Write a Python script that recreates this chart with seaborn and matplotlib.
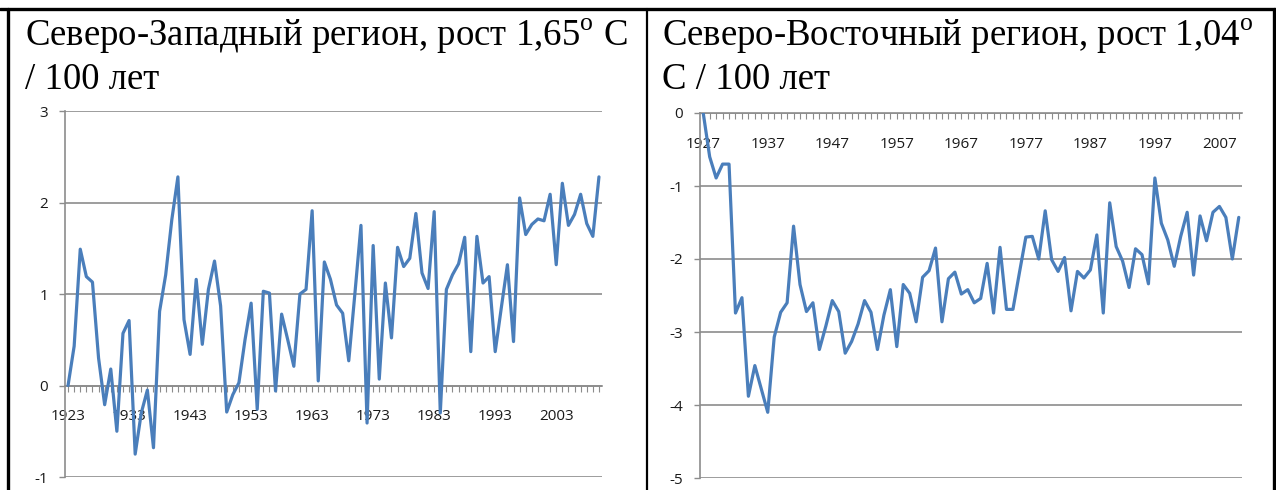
import pandas as pd
import seaborn as sns
import matplotlib.pyplot as plt
from matplotlib.lines import Line2D
from matplotlib.ticker import FixedLocator

# ========== DATA ==========
# Северо-Западный регион, 1923-2010
nw_years = list(range(1923, 2011))
nw_values = [0.0, 0.43, 1.49, 1.19, 1.13, 0.3, -0.21, 0.18, -0.5, 0.57,
             0.71, -0.75, -0.3, -0.05, -0.68, 0.81, 1.21, 1.81, 2.28, 0.72,
             0.34, 1.16, 0.45, 1.05, 1.36, 0.87, -0.29, -0.1, 0.03, 0.5,
             0.9, -0.26, 1.03, 1.01, -0.06, 0.78, 0.5, 0.21, 1.0, 1.05,
             1.91, 0.05, 1.35, 1.16, 0.88, 0.79, 0.27, 1.0, 1.75, -0.41,
             1.53, 0.07, 1.12, 0.52, 1.51, 1.3, 1.39, 1.88, 1.23, 1.06,
             1.9, -0.3, 1.05, 1.21, 1.33, 1.62, 0.37, 1.63, 1.12, 1.19,
             0.37, 0.85, 1.32, 0.48, 2.05, 1.65, 1.76, 1.82, 1.8, 2.09,
             1.32, 2.21, 1.75, 1.87, 2.09, 1.77, 1.63, 2.28]
nw_label_years = [1923, 1933, 1943, 1953, 1963, 1973, 1983, 1993, 2003]
nw_title = ["Северо-Западный регион, рост 1,65$^{\\mathrm{o}}$ С", "/ 100 лет"]

# Северо-Восточный регион, 1927-2010
ne_years = list(range(1927, 2011))
ne_values = [0.0, -0.6, -0.89, -0.7, -0.7, -2.74, -2.53, -3.88, -3.46, -3.78,
             -4.1, -3.07, -2.73, -2.6, -1.55, -2.35, -2.72, -2.6, -3.24, -2.92,
             -2.57, -2.72, -3.29, -3.13, -2.89, -2.57, -2.73, -3.24, -2.77, -2.42,
             -3.2, -2.35, -2.47, -2.86, -2.25, -2.16, -1.85, -2.86, -2.27, -2.18,
             -2.48, -2.42, -2.6, -2.54, -2.06, -2.74, -1.84, -2.69, -2.69, -2.19,
             -1.7, -1.69, -2.0, -1.34, -2.01, -2.17, -1.98, -2.71, -2.17, -2.26,
             -2.15, -1.67, -2.74, -1.23, -1.83, -2.03, -2.39, -1.86, -1.94, -2.34,
             -0.89, -1.51, -1.74, -2.1, -1.69, -1.36, -2.22, -1.41, -1.75, -1.36,
             -1.28, -1.43, -2.0, -1.43]
ne_label_years = [1927, 1937, 1947, 1957, 1967, 1977, 1987, 1997, 2007]
ne_title = ["Северо-Восточный регион, рост 1,04$^{\\mathrm{o}}$", "С / 100 лет"]

LINE = "#4a7ebb"
GRID = "#8c8c8c"

sns.set_style("white")
plt.rcParams['font.family'] = ['Open Sans', 'DejaVu Sans']
plt.rcParams['mathtext.fontset'] = 'custom'
plt.rcParams['mathtext.rm'] = 'Liberation Serif'
plt.rcParams['axes.unicode_minus'] = False


def draw_panel(ax, years, values, ymin, ymax, label_years):
    df = pd.DataFrame({"Year": years, "Value": values})
    sns.lineplot(data=df, x="Year", y="Value", ax=ax, color=LINE, linewidth=2.3, zorder=3)
    ax.set_xlim(years[0] - 0.5, years[-1] + 0.5)
    ax.set_ylim(ymin, ymax)
    ax.set_yticks(range(ymin, ymax + 1))
    ax.yaxis.grid(True, color=GRID, linewidth=1.2)
    ax.xaxis.grid(False)
    ax.set_axisbelow(True)
    ax.spines['top'].set_visible(False)
    ax.spines['right'].set_visible(False)
    ax.spines['left'].set_color(GRID)
    ax.spines['left'].set_linewidth(1.2)
    ax.spines['bottom'].set_position(('data', 0))
    ax.spines['bottom'].set_color(GRID)
    ax.spines['bottom'].set_linewidth(1.2)
    ax.set_xticks(label_years)
    ax.set_xticklabels([str(y) for y in label_years])
    ax.xaxis.set_minor_locator(FixedLocator(years))
    ax.tick_params(axis='x', which='both', direction='out', length=4, width=0.8,
                   color=GRID, pad=13, labelsize=11, labelcolor='#1a1a1a', bottom=True)
    ax.tick_params(axis='y', direction='out', length=4, width=1, color=GRID,
                   pad=8, labelsize=11, labelcolor='#1a1a1a', left=True)
    ax.set_xlabel("")
    ax.set_ylabel("")
    ax.set_facecolor("white")


fig = plt.figure(figsize=(12.76, 4.90), dpi=100)

ax1 = fig.add_axes([65 / 1276, 1 - 477 / 490, 537 / 1276, 366 / 490])
draw_panel(ax1, nw_years, nw_values, -1, 3, nw_label_years)

ax2 = fig.add_axes([700 / 1276, 1 - 478 / 490, 542 / 1276, 365 / 490])
draw_panel(ax2, ne_years, ne_values, -5, 0, ne_label_years)

# titles
title_font = dict(family='Liberation Serif', fontsize=26.5, color='black', va='baseline')
fig.text(25 / 1276, 1 - 46 / 490, nw_title[0], **title_font)
fig.text(25 / 1276, 1 - 89 / 490, nw_title[1], **title_font)
fig.text(662 / 1276, 1 - 46 / 490, ne_title[0], **title_font)
fig.text(662 / 1276, 1 - 89 / 490, ne_title[1], **title_font)

# table borders
fig.add_artist(Line2D([0, 1], [1 - 9 / 490, 1 - 9 / 490], color='black', linewidth=2.4))
fig.add_artist(Line2D([8 / 1276, 8 / 1276], [0, 1 - 9 / 490], color='black', linewidth=2.4))
fig.add_artist(Line2D([647 / 1276, 647 / 1276], [0, 1 - 9 / 490], color='black', linewidth=1.6))
fig.add_artist(Line2D([1274 / 1276, 1274 / 1276], [0, 1 - 9 / 490], color='black', linewidth=2.4))

plt.savefig('out.png', dpi=100)
